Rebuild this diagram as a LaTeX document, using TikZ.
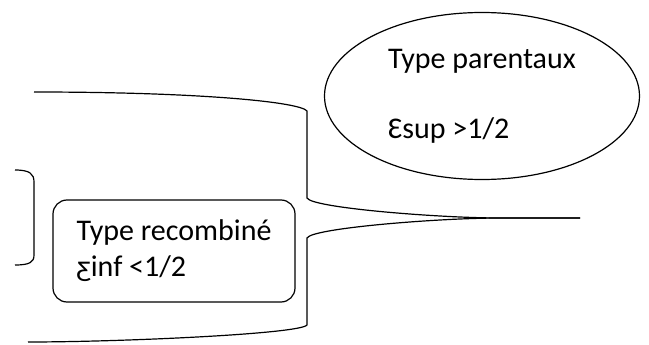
\documentclass[tikz,border=0pt]{standalone}
\usepackage{fontspec}
\setmainfont{Carlito}
\usetikzlibrary{shapes.geometric}
\begin{document}
\begin{tikzpicture}[x=1pt,y=-1pt,line width=1.2pt,
    bulle/.style={draw,ellipse,minimum width=315pt,minimum height=167pt,align=left,font=\fontsize{30}{70}\selectfont},
    boite/.style={draw,rounded corners=14pt,minimum width=242pt,minimum height=102pt,align=left,font=\fontsize{30}{36}\selectfont}]
    \useasboundingbox (0,0) rectangle (649,345);
    % bulle du type parental
    \node[bulle] (parent) at (482,96) {Type parentaux\\Ɛsup >1/2};
    % boite du type recombine
    \node[boite] (recomb) at (174,251) {Type recombiné\\ƹinf <1/2};
    % grande accolade
    \coordinate (pointe) at (580,218);
    \draw (34,92) .. controls (200,92) and (300,102) .. (307,111) -- (307,198)
      .. controls (312,208) and (440,218) .. (500,218) -- (pointe);
    \draw (pointe) -- (500,218) .. controls (440,218) and (312,228) .. (307,238)
      -- (307,325) .. controls (300,334) and (120,342) .. (28,342);
    % petite accolade
    \draw (15,170) .. controls (30,170) and (34,174) .. (34,182) -- (34,255)
      .. controls (34,262) and (30,265) .. (15,265);
\end{tikzpicture}
\end{document}
